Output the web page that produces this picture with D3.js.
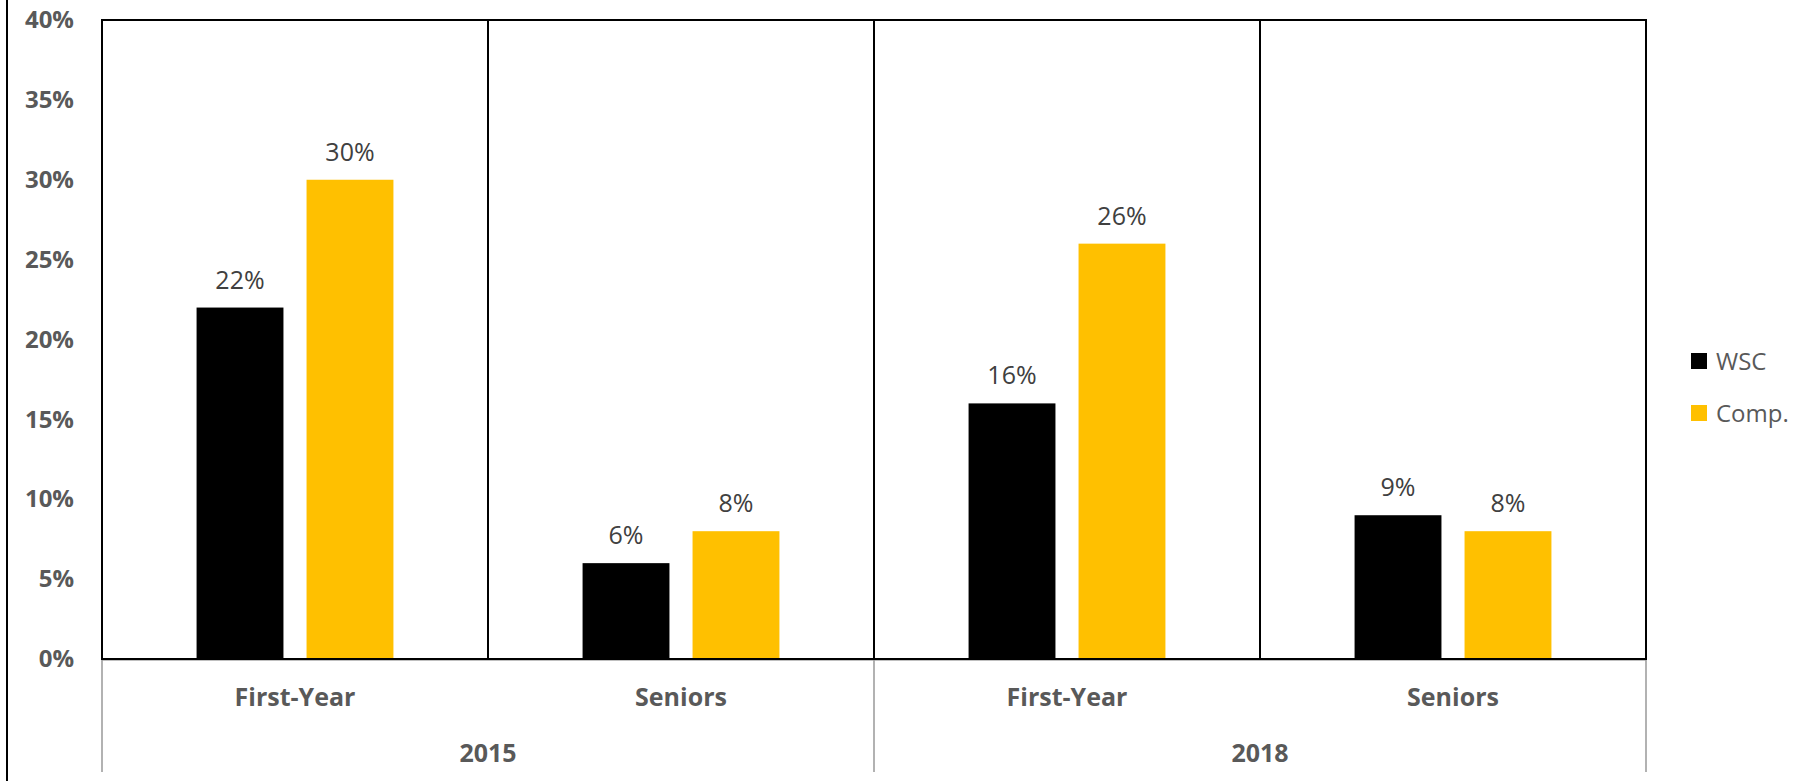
<!DOCTYPE html>
<html>
<head>
<meta charset="utf-8">
<script src="https://cdn.jsdelivr.net/npm/d3@7"></script>
<style>
  html, body { margin: 0; padding: 0; background: #fff; }
  svg { display: block; font-family: "Open Sans", sans-serif; }
</style>
</head>
<body>
<div class="container_graph"></div>
<script>
const years = ["2015", "2018"];
const groups = ["First-Year", "Seniors"];
const series = ["WSC", "Comp."];
const wscValues = [22, 6, 16, 9];
const compValues = [30, 8, 26, 8];
const yTicks = [0, 5, 10, 15, 20, 25, 30, 35, 40];

document.addEventListener("DOMContentLoaded", function () {
  const width = 1818;
  const height = 781;
  const margin = { top: 20, right: 170, bottom: 122, left: 102 };
  const colors = { "WSC": "#000000", "Comp.": "#FFC000" };

  const keys = [];
  years.forEach((y) => groups.forEach((g) => keys.push(y + "|" + g)));
  const data = keys.map((k, i) => ({
    key: k,
    values: [
      { name: "WSC", value: wscValues[i] },
      { name: "Comp.", value: compValues[i] }
    ]
  }));

  const svg = d3
    .select(".container_graph")
    .append("svg")
    .attr("width", width)
    .attr("height", height);

  const plotRight = width - margin.right - 2;
  const plotBottom = height - margin.bottom;

  const x0 = d3
    .scaleBand()
    .domain(keys)
    .range([margin.left, plotRight])
    .paddingInner(0.49)
    .paddingOuter(0.245);
  const x1 = d3
    .scaleBand()
    .domain(series)
    .range([0, x0.bandwidth()])
    .paddingInner(0.21);
  const cell = d3.scaleBand().domain(keys).range([margin.left, plotRight]);
  const yearScale = d3.scaleBand().domain(years).range([margin.left, plotRight]);

  const yScale = d3
    .scaleLinear()
    .domain([0, 40])
    .range([plotBottom, margin.top]);

  // outer left frame line
  svg
    .append("line")
    .attr("x1", 7).attr("x2", 7)
    .attr("y1", 0).attr("y2", height)
    .attr("stroke", "#000")
    .attr("stroke-width", 2);

  // bars
  const groupsG = svg
    .selectAll(".grp")
    .data(data)
    .enter()
    .append("g")
    .attr("transform", (d) => `translate(${x0(d.key)},0)`);

  groupsG
    .selectAll("rect")
    .data((d) => d.values)
    .enter()
    .append("rect")
    .attr("x", (d) => x1(d.name))
    .attr("y", (d) => yScale(d.value))
    .attr("width", x1.bandwidth())
    .attr("height", (d) => yScale(0) - yScale(d.value))
    .attr("fill", (d) => colors[d.name]);

  groupsG
    .selectAll("text")
    .data((d) => d.values)
    .enter()
    .append("text")
    .attr("x", (d) => x1(d.name) + x1.bandwidth() / 2)
    .attr("y", (d) => yScale(d.value) - 19)
    .attr("text-anchor", "middle")
    .attr("fill", "#404040")
    .style("font-size", "25px")
    .text((d) => d.value + "%");

  // separators between categories
  svg
    .selectAll(".sep")
    .data(keys.slice(1))
    .enter()
    .append("line")
    .attr("x1", (d) => cell(d)).attr("x2", (d) => cell(d))
    .attr("y1", margin.top).attr("y2", plotBottom)
    .attr("stroke", "#000")
    .attr("stroke-width", 2);

  // plot border
  svg
    .append("rect")
    .attr("x", margin.left)
    .attr("y", margin.top)
    .attr("width", plotRight - margin.left)
    .attr("height", plotBottom - margin.top)
    .attr("fill", "none")
    .attr("stroke", "#000")
    .attr("stroke-width", 2);

  // y axis
  const gy = svg
    .append("g")
    .attr("transform", `translate(74,0)`)
    .call(
      d3.axisLeft(yScale)
        .tickValues(yTicks)
        .tickSize(0)
        .tickPadding(0)
        .tickFormat((d) => d + "%")
    );
  gy.select(".domain").remove();
  gy.selectAll("text")
    .attr("fill", "#595959")
    .attr("font-weight", "bold")
    .style("font-size", "24px")
    .style("font-family", "'Open Sans', sans-serif");

  // x axis (two levels)
  const gx = svg
    .append("g")
    .attr("transform", `translate(0,${plotBottom})`)
    .call(
      d3.axisBottom(cell)
        .tickSize(0)
        .tickPadding(0)
        .tickFormat((d) => d.split("|")[1])
    );
  gx.select(".domain").remove();
  gx.selectAll("text")
    .attr("y", 47)
    .attr("dy", null)
    .attr("fill", "#595959")
    .attr("font-weight", "bold")
    .style("font-size", "25px")
    .style("font-family", "'Open Sans', sans-serif");

  const gxYear = svg
    .append("g")
    .attr("transform", `translate(0,${plotBottom})`)
    .call(d3.axisBottom(yearScale).tickSize(0).tickPadding(0));
  gxYear.select(".domain").remove();
  gxYear.selectAll("text")
    .attr("y", 103)
    .attr("dy", null)
    .attr("fill", "#595959")
    .attr("font-weight", "bold")
    .style("font-size", "25px")
    .style("font-family", "'Open Sans', sans-serif");

  // axis line and year separators (gray)
  svg
    .append("line")
    .attr("x1", margin.left).attr("x2", plotRight)
    .attr("y1", plotBottom + 1.5).attr("y2", plotBottom + 1.5)
    .attr("stroke", "#bfbfbf")
    .attr("stroke-width", 1);

  const yearEdges = years.map((y) => yearScale(y)).concat([plotRight]);
  svg
    .selectAll(".ytick")
    .data(yearEdges)
    .enter()
    .append("line")
    .attr("x1", (d) => d).attr("x2", (d) => d)
    .attr("y1", plotBottom + 1).attr("y2", plotBottom + 113)
    .attr("stroke", "#999999")
    .attr("stroke-width", 1.5);

  // legend
  const legend = svg
    .append("g")
    .attr("transform", `translate(1691,353)`);
  const items = legend
    .selectAll("g")
    .data(series)
    .enter()
    .append("g")
    .attr("transform", (d, i) => `translate(0,${i * 52})`);
  items
    .append("rect")
    .attr("width", 16)
    .attr("height", 16)
    .attr("fill", (d) => colors[d]);
  items
    .append("text")
    .attr("x", 25)
    .attr("y", 17)
    .attr("fill", "#595959")
    .style("font-size", "24px")
    .text((d) => d);
});
</script>
</body>
</html>
